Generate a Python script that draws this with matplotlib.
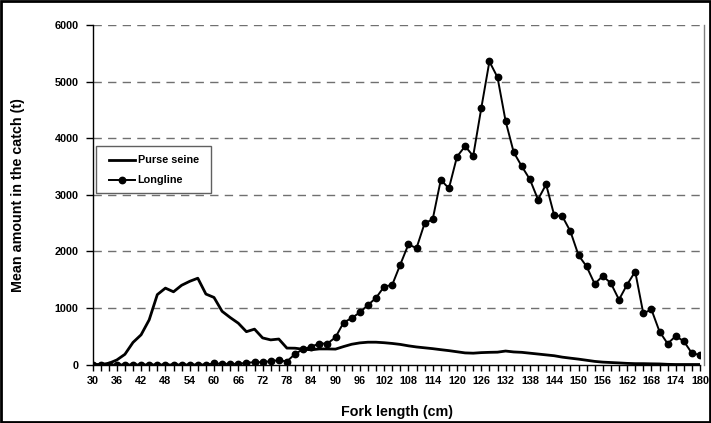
import matplotlib
matplotlib.use("Agg")
import matplotlib.pyplot as plt
from matplotlib.ticker import MultipleLocator, FuncFormatter
from matplotlib.patches import Rectangle
from matplotlib.lines import Line2D

plt.rcParams['font.family'] = ['Liberation Sans', 'DejaVu Sans']

fork_length = list(range(30, 182, 2))

purse_seine = [0, 0, 20, 80, 180, 390, 525, 790, 1235, 1350,
               1285, 1400, 1470, 1525, 1245, 1185, 940, 830, 730, 580,
               625, 470, 435, 450, 290, 288, 270, 260, 275, 275,
               272, 317, 358, 382, 394, 394, 385, 372, 355, 330,
               310, 295, 280, 262, 245, 225, 205, 200, 210, 215,
               218, 238, 222, 215, 200, 185, 170, 155, 130, 112,
               95, 75, 55, 42, 35, 28, 20, 15, 15, 12,
               10, 3, 0, 0, 0, 0]

longline = [0, 0, 0, 0, 0, 0, 0, 0, 0, 0,
            0, 0, 0, 0, 0, 18, 12, 12, 12, 30,
            41, 41, 59, 76, 53, 186, 270, 316, 370, 370,
            480, 742, 820, 920, 1051, 1176, 1376, 1407, 1767, 2122,
            2057, 2495, 2566, 3264, 3112, 3673, 3858, 3685, 4532, 5355,
            5076, 4302, 3751, 3502, 3271, 2916, 3183, 2637, 2620, 2353,
            1932, 1732, 1424, 1566, 1435, 1146, 1412, 1643, 902, 973,
            583, 369, 501, 412, 199, 169]

series_names = ['Purse seine', 'Longline']
y_ticks = [0, 1000, 2000, 3000, 4000, 5000, 6000]

W, H = 711, 423
fig = plt.figure(figsize=(W / 100, H / 100), dpi=100)
ax = fig.add_axes([92.5 / W, 1 - 364.5 / H, 607.5 / W, 339.5 / H])

for v in y_ticks[1:]:
    ax.axhline(v, color='#707070', lw=1.0, ls=(0, (6, 4.5)), zorder=1)

ps_style = dict(color='black', lw=2.0, solid_joinstyle='round')
ll_style = dict(color='black', lw=1.4, marker='o', ms=4.6)
ax.plot(fork_length, purse_seine, zorder=3, **ps_style)
ax.plot(fork_length, longline, zorder=4, **ll_style)

ax.set_xlim(30, 180)
ax.set_ylim(0, 6000)
ax.set_yticks(y_ticks)
ax.xaxis.set_major_locator(MultipleLocator(6))
ax.xaxis.set_minor_locator(MultipleLocator(2))
ax.xaxis.set_major_formatter(FuncFormatter(lambda v, p: f"{int(round(v))}"))

ax.tick_params(axis='x', which='both', length=4, width=1, direction='out',
               pad=4, labelsize=7.8)
ax.tick_params(axis='y', which='major', length=5, width=1, direction='out',
               pad=5, labelsize=7.8)
for lab in ax.get_xticklabels() + ax.get_yticklabels():
    lab.set_fontweight('bold')

ax.spines['top'].set_visible(False)
ax.spines['right'].set_visible(False)
for s in ('left', 'bottom'):
    ax.spines[s].set_color('black')
    ax.spines[s].set_linewidth(1.0)

# plot-area right border
fig.add_artist(Line2D([704 / W, 704 / W], [1 - 25 / H, 1 - 364.5 / H],
                      transform=fig.transFigure, color='#808080', lw=1.0))

ax.set_ylabel('Mean amount in the catch (t)', fontsize=10.3, fontweight='bold')
ax.yaxis.set_label_coords((25 - 92.5) / 607.5, 0.5)
ax.set_xlabel('Fork length (cm)', fontsize=10.3, fontweight='bold')
ax.xaxis.set_label_coords((397 - 92.5) / 607.5, (H - 405 - 58.5) / 339.5)

# legend (drawn in figure pixel positions)
def fx(px):
    return px / W

def fy(py):
    return 1 - py / H

fig.add_artist(Rectangle((fx(96), fy(193.5)), (211 - 96) / W, (193.5 - 146) / H,
                         transform=fig.transFigure, facecolor='white',
                         edgecolor='#606060', lw=1.0, zorder=5))
rows = [160, 180]
styles = [ps_style, ll_style]
for name, row, st in zip(series_names, rows, styles):
    st2 = dict(st)
    fig.add_artist(Line2D([fx(109), fx(135)], [fy(row), fy(row)],
                          transform=fig.transFigure, zorder=6, **{k: v for k, v in st2.items() if k != 'marker' and k != 'ms'}))
    if 'marker' in st2:
        fig.add_artist(Line2D([fx(122)], [fy(row)], transform=fig.transFigure,
                              marker='o', ms=st2['ms'], color='black',
                              lw=0, zorder=7))
    fig.text(fx(137.5), fy(row), name, fontsize=7.8, fontweight='bold',
             va='center', ha='left', zorder=7)

# outer chart border
fig.add_artist(Rectangle((1.5 / W, 1.5 / H), 1 - 3 / W, 1 - 3 / H,
                         transform=fig.transFigure, fill=False,
                         edgecolor='black', lw=2.0))

fig.savefig('out.png', dpi=100)
